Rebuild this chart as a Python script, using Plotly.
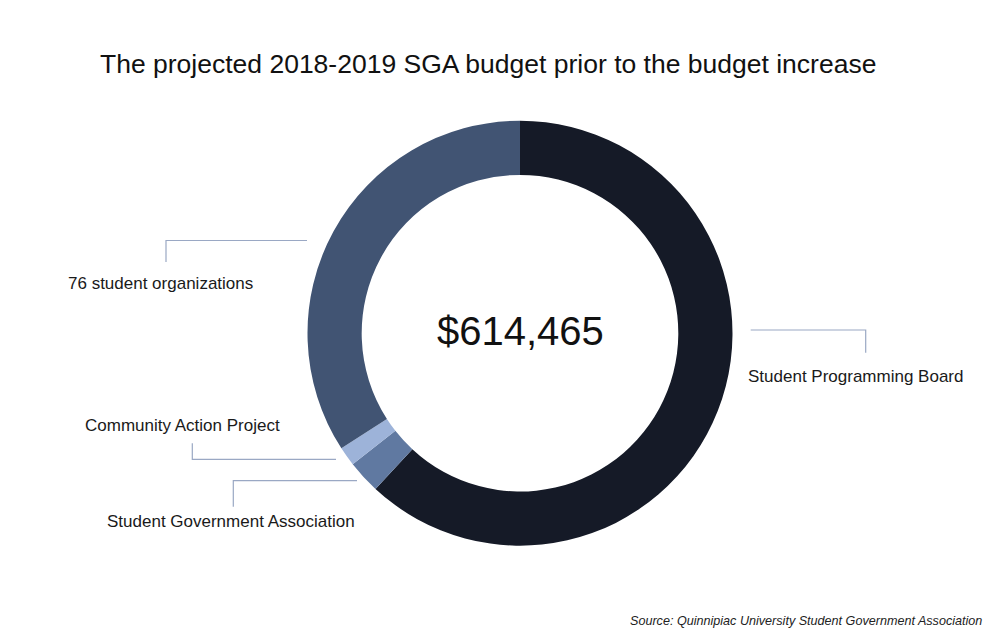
import plotly.graph_objects as go

# ---- data ----
categories = ["Student Programming Board", "Student Government Association",
              "Community Action Project", "76 student organizations"]
amounts = [380365, 15500, 9000, 209600]
colors = ["#151a27", "#6079a1", "#9db3d9", "#415473"]
total_label = "$614,465"
title_text = "The projected 2018-2019 SGA budget prior to the budget increase"
source_text = "Source: Quinnipiac University Student Government Association"

W, H = 1000, 641
OFF = 8  # page body margin
FONT = "Helvetica, Arial, Liberation Sans, sans-serif"


def px(x):
    return (x - OFF) / W


def py(y):
    return 1 - (y - OFF) / H


fig = go.Figure()
fig.add_trace(go.Pie(
    labels=categories,
    values=amounts,
    marker=dict(colors=colors, line=dict(width=0)),
    hole=0.745,
    sort=False,
    direction="clockwise",
    rotation=0,
    textinfo="none",
    hoverinfo="label+value",
    showlegend=False,
    domain=dict(x=[px(307.5), px(732.5)], y=[py(545.7), py(120.7)]),
))

line_color = "#9aa8c4"
leaders = [
    [(307, 240.5), (166, 240.5), (166, 262)],
    [(336, 459.3), (192.3, 459.3), (192.3, 443.3)],
    [(357, 480.7), (233.3, 480.7), (233.3, 506.7)],
    [(750.7, 330), (865.7, 330), (865.7, 352.7)],
]
shapes = []
for pts in leaders:
    path = "M " + " L ".join(f"{px(x)},{py(y)}" for x, y in pts)
    shapes.append(dict(type="path", xref="paper", yref="paper", path=path,
                       line=dict(color=line_color, width=1.2)))

label_pos = [
    (746, 376, "left"),   # SPB
    (105, 521, "left"),   # SGA
    (83, 426, "left"),    # CAP
    (66, 283, "left"),    # orgs
]
annotations = []
for cat, (x, y, anc) in zip(categories, label_pos):
    annotations.append(dict(text=cat, x=px(x), y=py(y), xref="paper", yref="paper",
                            xanchor=anc, yanchor="middle", showarrow=False,
                            font=dict(family=FONT, size=17, color="#1a1a1a")))

annotations.append(dict(text=total_label, x=px(520), y=py(331), xref="paper", yref="paper",
                        xanchor="center", yanchor="middle", showarrow=False,
                        font=dict(family=FONT, size=40, color="#111111")))
annotations.append(dict(text=title_text, x=px(488), y=py(64), xref="paper", yref="paper",
                        xanchor="center", yanchor="middle", showarrow=False,
                        font=dict(family=FONT, size=26.5, color="#111111")))
annotations.append(dict(text="<i>" + source_text + "</i>", x=px(984), y=py(621),
                        xref="paper", yref="paper", xanchor="right", yanchor="middle",
                        showarrow=False,
                        font=dict(family=FONT, size=12.6, color="#222222")))

fig.update_layout(
    width=W, height=H,
    margin=dict(l=0, r=0, t=0, b=0),
    paper_bgcolor="white", plot_bgcolor="white",
    shapes=shapes, annotations=annotations,
)

fig.write_html("out.html")
